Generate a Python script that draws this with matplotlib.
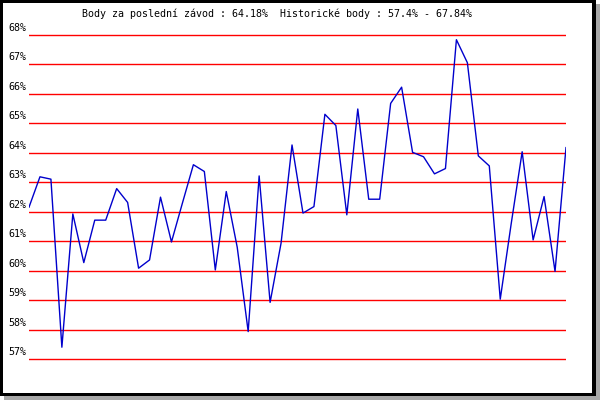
import matplotlib
matplotlib.use("Agg")
import matplotlib.pyplot as plt
from matplotlib.patches import Rectangle

title = "Body za poslední závod : 64.18%  Historické body : 57.4% - 67.84%"
levels = [68, 67, 66, 65, 64, 63, 62, 61, 60, 59, 58, 57]
level_labels = ["68%", "67%", "66%", "65%", "64%", "63%", "62%", "61%", "60%", "59%", "58%", "57%"]
values = [62.16, 63.19, 63.11, 57.41, 61.93, 60.28, 61.72, 61.72, 62.79, 62.32,
          60.09, 60.37, 62.50, 60.98, 62.30, 63.60, 63.37, 60.03, 62.69, 60.80,
          57.94, 63.22, 58.93, 60.94, 64.27, 61.96, 62.18, 65.31, 64.93, 61.90,
          65.49, 62.43, 62.43, 65.68, 66.23, 64.02, 63.87, 63.29, 63.47, 67.84,
          67.06, 63.90, 63.56, 59.04, 61.60, 64.04, 61.05, 62.52, 59.98, 64.18]

W, H = 600, 400
fig = plt.figure(figsize=(6, 4), dpi=100, facecolor="white")

def px(x0, y0, x1, y1):
    return (x0 / W, 1 - y1 / H), (x1 - x0) / W, (y1 - y0) / H

# shadow, black frame, white interior
for (x0, y0, x1, y1), col in [((4, 4, 600, 400), "#a8a8a8"),
                              ((0, 0, 596, 396), "black"),
                              ((3, 3, 592, 393), "white")]:
    xy, w, h = px(x0, y0, x1, y1)
    fig.add_artist(Rectangle(xy, w, h, transform=fig.transFigure,
                             facecolor=col, edgecolor="none", zorder=0))

# axes: x from 29 to 566 px, ylim 56.5..68.5 mapping 68->35px, 57->359.3px
ppu = (359.3 - 35) / 11
top = 35 - 0.5 * ppu
bot = 359.3 + 0.5 * ppu
ax = fig.add_axes([29 / W, 1 - bot / H, (566 - 29) / W, (bot - top) / H])
ax.set_facecolor("none")
ax.set_xlim(0, len(values) - 1)
ax.set_ylim(56.5, 68.5)
for s in ax.spines.values():
    s.set_visible(False)
ax.set_xticks([])
ax.set_yticks([])

for lv in levels:
    ax.axhline(lv, color="#ff0000", lw=1.0, zorder=1)

ax.plot(range(len(values)), values, color="#0000cc", lw=1.0, zorder=2)

mono = "DejaVu Sans Mono"
for lv, lab in zip(levels, level_labels):
    ypx = 35 + (68 - lv) * ppu - 2
    fig.text(26.5 / W, 1 - ypx / H, lab, ha="right", va="bottom",
             fontsize=7.2, family=mono, color="black")

fig.text(277 / W, 1 - 13.5 / H, title, ha="center", va="center",
         fontsize=7.2, family=mono, color="black")

fig.savefig("out.png", dpi=100, facecolor="white")
